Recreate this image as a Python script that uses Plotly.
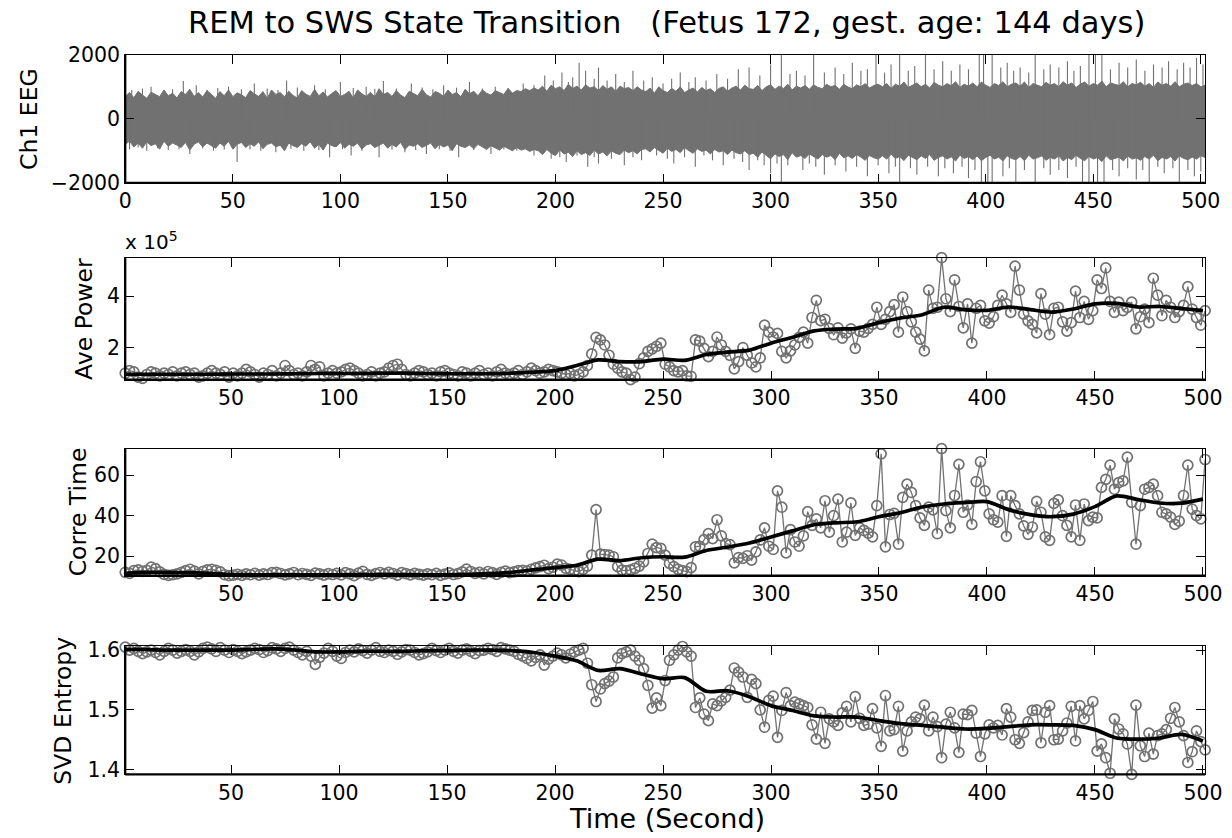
import plotly.graph_objects as go

# ---------------- data ----------------
T = list(range(1, 502, 2))  # window centres (s)

AP_X1E5 = [
    1.0, 1.1, 1.05, 0.85, 0.8, 0.95, 1.05, 1.0, 0.9, 1.0,
    0.95, 1.05, 0.9, 1.0, 1.05, 0.95, 1.0, 0.85, 0.9, 1.0,
    1.1, 1.0, 0.95, 1.05, 0.85, 1.0, 0.9, 1.0, 1.15, 1.05,
    0.95, 0.85, 1.0, 0.95, 1.1, 0.9, 1.0, 1.3, 1.1, 0.95,
    1.0, 0.9, 1.05, 1.3, 1.15, 1.25, 0.9, 1.0, 1.1, 1.0,
    1.05, 1.15, 1.2, 1.1, 1.0, 0.9, 0.95, 1.05, 0.9, 1.0,
    1.05, 1.2, 1.3, 1.35, 1.15, 0.95, 0.9, 1.0, 1.1, 1.05,
    0.95, 1.0, 0.9, 1.05, 1.1, 1.0, 0.95, 0.9, 1.05, 1.0,
    0.9, 1.0, 1.1, 0.95, 1.0, 0.9, 1.05, 1.15, 1.0, 0.95,
    1.0, 1.1, 0.95, 1.05, 1.2, 1.1, 1.0, 1.05, 1.15, 1.1,
    1.05, 1.0, 0.95, 1.0, 0.9, 0.95, 1.05, 1.3, 1.75, 2.4,
    2.3, 2.1, 1.7, 1.35, 1.2, 1.05, 1.0, 0.75, 0.85, 1.37,
    1.6, 1.85, 1.95, 2.05, 2.17, 1.35, 1.25, 1.1, 1.05, 1.1,
    0.9, 0.88, 2.3, 2.25, 1.97, 1.65, 1.85, 2.41, 2.1, 1.85,
    1.7, 1.17, 1.45, 2.0, 1.7, 1.4, 1.25, 1.6, 2.87, 2.6,
    2.41, 2.55, 1.85, 1.6, 1.87, 2.1, 2.4, 2.6, 2.17, 3.17,
    3.84, 3.05, 3.1, 2.75, 2.5, 2.77, 2.37, 2.57, 2.73, 1.97,
    2.64, 2.6, 2.75, 2.9, 3.57, 2.9, 3.1, 3.4, 3.67, 2.6,
    3.97, 3.4, 3.0, 2.6, 2.33, 1.87, 4.24, 3.53, 3.57, 5.5,
    3.9, 3.4, 4.64, 3.6, 2.77, 3.7, 2.17, 3.53, 3.64, 3.04,
    2.95, 3.2, 3.64, 4.04, 3.7, 3.37, 5.17, 4.24, 3.3, 3.04,
    2.9, 2.57, 4.1, 3.3, 2.5, 3.53, 3.57, 3.0, 2.64, 2.97,
    4.2, 3.17, 3.8, 3.1, 3.44, 4.64, 4.3, 5.1, 3.8, 3.37,
    3.77, 3.44, 3.57, 3.77, 2.73, 3.2, 3.5, 2.97, 4.7, 4.04,
    3.24, 3.84, 3.57, 3.17, 3.4, 3.64, 4.37, 3.5, 3.17, 2.87,
    3.44,
]

CT = [
    12.0, 11.5, 12.8, 13.2, 12.5, 13.0, 14.6, 13.8, 12.2, 11.0,
    10.5, 10.8, 11.2, 12.0, 12.8, 13.5, 12.6, 11.2, 12.5, 13.2,
    13.5, 13.0, 12.2, 10.8, 10.4, 10.6, 11.0, 10.5, 11.2, 10.8,
    11.5, 10.6, 11.2, 10.9, 11.8, 12.0, 11.4, 10.7, 11.2, 11.9,
    10.8, 11.4, 11.0, 10.5, 11.6, 11.2, 10.6, 11.3, 10.9, 11.5,
    10.7, 11.8, 11.2, 10.4, 11.6, 12.5, 11.0, 10.5, 11.3, 11.9,
    11.2, 12.0, 11.4, 10.6, 11.8, 11.3, 10.7, 11.5, 11.0, 10.6,
    11.2, 10.8, 11.5, 10.5, 11.1, 11.7, 10.9, 11.3, 12.2, 13.6,
    12.4, 11.5, 12.0, 11.2, 12.4, 11.8, 11.0, 12.0, 12.6, 11.8,
    12.2, 12.8, 13.0, 12.6, 13.5, 14.2, 14.8, 15.5, 13.8, 14.5,
    16.0, 15.6, 14.0, 13.5, 12.8, 12.3, 13.5, 15.1, 20.5, 43.0,
    21.0, 20.8, 20.5, 19.7, 14.8, 13.1, 12.7, 13.2, 14.0, 15.1,
    17.2, 21.3, 25.9, 24.2, 23.8, 20.5, 16.4, 14.8, 13.5, 12.8,
    12.3, 14.3, 24.6, 24.9, 28.2, 31.1, 28.7, 38.0, 30.0, 26.2,
    25.7, 16.7, 19.3, 18.9, 20.2, 18.0, 22.1, 28.0, 34.0, 24.9,
    23.3, 52.3, 44.2, 21.6, 33.1, 27.0, 24.9, 30.0, 42.0, 35.2,
    38.4, 34.0, 47.4, 31.9, 40.0, 48.2, 27.0, 31.9, 46.3, 30.3,
    34.0, 32.7, 31.4, 29.5, 45.0, 70.6, 24.6, 40.6, 41.2, 25.9,
    49.1, 55.6, 51.5, 45.0, 38.9, 35.2, 44.2, 42.9, 31.1, 73.2,
    42.5, 34.0, 50.0, 65.4, 41.7, 45.3, 35.7, 56.9, 66.7, 52.3,
    40.9, 38.0, 36.8, 49.9, 29.8, 49.9, 45.0, 40.9, 35.0, 30.8,
    34.4, 47.1, 41.7, 29.5, 27.8, 46.1, 47.8, 40.0, 35.2, 29.5,
    45.3, 27.8, 45.8, 37.6, 39.3, 38.9, 54.0, 58.0, 65.0, 53.1,
    56.4, 57.2, 69.0, 46.6, 25.9, 45.0, 53.1, 54.0, 55.6, 49.9,
    41.7, 40.9, 39.3, 35.7, 37.3, 50.0, 65.0, 43.3, 40.1, 38.4,
    67.8,
]

SE = [
    1.605, 1.600, 1.603, 1.598, 1.594, 1.597, 1.600, 1.596, 1.592, 1.598,
    1.603, 1.600, 1.595, 1.598, 1.601, 1.598, 1.592, 1.597, 1.603, 1.605,
    1.602, 1.598, 1.604, 1.600, 1.596, 1.601, 1.598, 1.594, 1.597, 1.600,
    1.603, 1.601, 1.596, 1.599, 1.604, 1.602, 1.598, 1.603, 1.605, 1.600,
    1.596, 1.592, 1.598, 1.590, 1.576, 1.588, 1.595, 1.603, 1.598, 1.590,
    1.586, 1.596, 1.600, 1.597, 1.602, 1.599, 1.595, 1.600, 1.604, 1.598,
    1.596, 1.600, 1.598, 1.593, 1.597, 1.601, 1.600, 1.596, 1.592, 1.594,
    1.597, 1.603, 1.599, 1.596, 1.600, 1.603, 1.598, 1.595, 1.600, 1.602,
    1.598, 1.594, 1.599, 1.600, 1.603, 1.601, 1.598, 1.604, 1.602, 1.600,
    1.598, 1.593, 1.590, 1.586, 1.582, 1.588, 1.592, 1.575, 1.585, 1.590,
    1.595, 1.592, 1.587, 1.593, 1.597, 1.600, 1.603, 1.578, 1.542, 1.514,
    1.535, 1.544, 1.548, 1.555, 1.587, 1.594, 1.597, 1.600, 1.590, 1.583,
    1.569, 1.541, 1.503, 1.520, 1.507, 1.549, 1.583, 1.592, 1.600, 1.606,
    1.597, 1.590, 1.504, 1.520, 1.493, 1.482, 1.510, 1.507, 1.515, 1.521,
    1.533, 1.570, 1.563, 1.555, 1.521, 1.551, 1.544, 1.500, 1.471, 1.516,
    1.523, 1.454, 1.499, 1.529, 1.507, 1.513, 1.510, 1.507, 1.504, 1.475,
    1.451, 1.496, 1.444, 1.485, 1.480, 1.474, 1.495, 1.506, 1.480, 1.522,
    1.486, 1.474, 1.476, 1.502, 1.470, 1.439, 1.524, 1.465, 1.467, 1.506,
    1.431, 1.465, 1.480, 1.488, 1.485, 1.508, 1.465, 1.488, 1.472, 1.420,
    1.476, 1.496, 1.470, 1.429, 1.493, 1.492, 1.499, 1.461, 1.422, 1.460,
    1.475, 1.470, 1.474, 1.458, 1.502, 1.488, 1.450, 1.444, 1.462, 1.480,
    1.499, 1.500, 1.445, 1.496, 1.507, 1.450, 1.451, 1.465, 1.478, 1.506,
    1.448, 1.507, 1.485, 1.499, 1.514, 1.431, 1.443, 1.420, 1.394, 1.485,
    1.468, 1.460, 1.443, 1.392, 1.508, 1.440, 1.422, 1.461, 1.426, 1.457,
    1.460, 1.467, 1.486, 1.504, 1.480, 1.457, 1.412, 1.430, 1.465, 1.447,
    1.433,
]

SM_T = [1] + list(range(10, 501, 10))
AP_SM = [0.96, 0.96, 0.96, 0.96, 0.96, 0.97, 0.97, 0.97, 0.98, 0.99,
         0.99, 0.99, 1.0, 1.0, 0.99, 0.98, 0.98, 0.98, 1.0, 1.04,
         1.1, 1.3, 1.52, 1.45, 1.45, 1.55, 1.5, 1.73, 1.82, 1.9,
         2.17, 2.4, 2.65, 2.72, 2.75, 2.97, 3.15, 3.28, 3.57, 3.47,
         3.45, 3.58, 3.48, 3.38, 3.5, 3.7, 3.72, 3.58, 3.6, 3.52, 3.44]
CT_SM = [11.5, 12.0, 12.0, 11.8, 11.5, 10.9, 10.8, 10.8, 10.8, 10.8,
         10.8, 10.9, 10.9, 10.9, 10.8, 10.8, 11.0, 11.3, 12.0, 13.2,
         14.3, 15.5, 18.5, 17.8, 19.2, 19.7, 19.5, 22.8, 24.5, 26.5,
         29.5, 32.5, 35.5, 36.5, 37.0, 39.5, 41.5, 44.3, 45.8, 46.5,
         47.0, 43.0, 40.5, 39.5, 40.8, 44.5, 49.8, 48.0, 46.3, 46.2, 48.2]
SE_SM = [1.601, 1.601, 1.600, 1.600, 1.600, 1.600, 1.601, 1.602, 1.600, 1.597,
         1.597, 1.598, 1.598, 1.598, 1.599, 1.599, 1.600, 1.600, 1.599, 1.596,
         1.590, 1.582, 1.566, 1.569, 1.560, 1.552, 1.554, 1.531, 1.532, 1.522,
         1.507, 1.499, 1.490, 1.488, 1.488, 1.482, 1.477, 1.474, 1.471, 1.468,
         1.469, 1.472, 1.475, 1.475, 1.474, 1.467, 1.453, 1.451, 1.453, 1.459, 1.448]

# EEG: solid-core envelope (every 2 s) plus individual spikes beyond it
EEG_T = list(range(0, 503, 2))
EEG_UP = [
    700, 820, 660, 860, 740, 640, 830, 760, 690, 900, 720, 800, 650, 850, 760, 920, 700, 820, 680, 880,
    760, 640, 850, 720, 900, 690, 810, 750, 660, 880, 780, 700, 850, 640, 900, 760, 820, 690, 860, 730,
    650, 880, 770, 700, 920, 720, 840, 680, 790, 880, 700, 760, 860, 650, 900, 780, 700, 830, 680, 940,
    760, 820, 700, 880, 740, 660, 860, 790, 720, 920, 750, 680, 850, 800, 700, 900, 760, 820, 690, 920,
    780, 860, 720, 900, 800, 740, 880, 820, 760, 950, 800, 880, 850, 940, 880, 960,
    900, 1020, 860, 1050, 940, 1000, 880, 1080, 950, 1020, 900, 1060, 960, 1000, 880, 1040, 920, 1000,
    860, 1020, 940, 980, 880, 1000, 900,
    850, 960, 800, 1000, 880, 820, 950, 860, 1000, 820, 900, 960, 840, 980, 880, 940, 820, 950, 1000,
    860, 960, 1020, 900, 1050, 940,
    920, 1040, 880, 1000, 1060, 920, 1020, 950, 1080, 900, 1020, 960, 1040, 920, 1060, 980, 940, 1080,
    1000, 1040, 920, 1080, 990, 940, 1060, 1000, 1100, 960, 1040, 1080,
    1000, 1100, 950, 1080, 1020, 1150, 980, 1050, 1120, 1000, 1080, 960, 1140, 1050, 1000, 1100, 1030,
    1160, 980, 1080, 1020, 1120, 1000, 1150, 1050, 980, 1100, 1040, 1160, 1000, 1080, 1120, 1020, 1150,
    980, 1100, 1060, 1000, 1140, 1050, 1100, 1000, 1160, 1050, 1120, 980, 1080, 1150, 1020, 1100, 1050,
    1180, 1000, 1120, 1080, 1040, 1160, 1000, 1100, 1060, 1140, 1020, 1100, 980, 1150, 1050, 1100, 1020,
    1160, 1000, 1080, 1120, 1040, 1100, 1000, 1050,
]
EEG_LO = [
    -800, -700, -880, -760, -920, -720, -840, -780, -950, -700, -860, -760, -820, -900, -740, -980, -800, -720, -880, -760,
    -840, -920, -760, -860, -700, -950, -800, -740, -900, -780, -860, -720, -940, -800, -760, -880, -820, -1000, -760, -840,
    -900, -780, -860, -720, -920, -800, -980, -760, -840, -880, -740, -920, -800, -860, -760, -950, -820, -780, -900, -840,
    -760, -920, -800, -880, -740, -960, -820, -860, -780, -900, -840, -760, -940, -800, -880, -820, -1000, -780, -860, -900,
    -820, -940, -800, -880, -960, -840, -900, -980, -860, -940, -1000, -900, -980, -940, -1020, -960,
    -1000, -1120, -960, -1080, -1150, -980, -1100, -1050, -1180, -1000, -1120, -1060, -1150, -980, -1100,
    -1040, -1160, -1000, -1080, -1120, -980, -1060, -1000, -1100, -960,
    -940, -1040, -900, -1000, -1080, -920, -1020, -960, -1060, -900, -1000, -1080, -940, -1020, -980,
    -1100, -960, -1040, -1000, -1120, -980, -1060, -1100, -1000, -1120,
    -1080, -1200, -1040, -1150, -1250, -1100, -1180, -1120, -1280, -1060, -1200, -1150, -1240, -1100, -1180,
    -1260, -1120, -1200, -1150, -1280, -1080, -1220, -1160, -1240, -1120, -1200, -1300, -1150, -1220, -1260,
    -1160, -1260, -1110, -1240, -1180, -1310, -1140, -1220, -1280, -1160, -1240, -1120, -1300, -1210, -1160,
    -1260, -1190, -1320, -1140, -1240, -1180, -1280, -1160, -1310, -1210, -1140, -1260, -1200, -1320, -1160,
    -1240, -1280, -1180, -1310, -1140, -1260, -1220, -1160, -1300, -1210, -1260, -1160, -1320, -1210, -1280,
    -1140, -1240, -1310, -1180, -1260, -1210, -1340, -1160, -1280, -1240, -1200, -1320, -1160, -1260, -1220,
    -1300, -1180, -1260, -1140, -1310, -1210, -1260, -1180, -1320, -1160, -1240, -1280, -1200, -1260, -1160, -1210,
]
SPK_UP_T = [3, 8, 12, 18, 22, 27, 33, 38, 43, 48, 54, 60, 66, 71, 75, 80, 88, 93, 100,
            106, 112, 116, 120, 126, 133, 138, 143, 148, 154, 160, 166, 172, 178, 185,
            190, 195, 199, 203, 206, 208, 211, 214, 218, 220, 224, 228, 232, 236, 241,
            245, 250, 254, 258, 262, 265, 270, 275, 280, 285, 290, 295, 300, 305, 309,
            312, 316, 320, 325, 330, 334, 338, 342, 345, 349, 353, 356, 360, 364, 367,
            372, 376, 380, 384, 388, 392, 397, 399, 403, 407, 410, 413, 416, 420, 423,
            427, 430, 434, 438, 441, 444, 448, 451, 454, 458, 462, 466, 470, 474, 478,
            482, 485, 489, 492, 495, 498, 501]
SPK_UP_V = [900, 950, 1000, 880, 920, 1180, 1050, 900, 960, 1000, 920, 1100, 950, 900, 1200,
            980, 1050, 920, 1150, 960, 1000, 940, 1180, 950, 1100, 980, 920, 1050, 970, 1150,
            950, 1000, 960, 1100, 1050, 1350, 1200, 1450, 1150, 1300, 1750, 1500, 1250, 1600,
            1200, 1400, 1150, 1500, 1200, 1300, 1100, 1250, 1450, 1150, 1300, 1200, 1400, 1250,
            1550, 1600, 1350, 1700, 2000, 1400, 1500, 1350, 2000, 1450, 1600, 1400, 1750, 1500,
            1550, 2000, 1450, 1700, 2000, 1500, 1650, 2000, 1550, 1800, 1500, 1700, 1550, 2000,
            2000, 2000, 1600, 1750, 1500, 1600, 1450, 2000, 1550, 1700, 1600, 1800, 1500, 1650,
            2000, 2000, 2000, 1550, 1750, 1600, 1850, 1500, 1700, 1600, 1800, 1550, 1750, 1600,
            1900, 1700]
SPK_LO_T = [2, 6, 10, 15, 20, 25, 30, 36, 41, 46, 52, 58, 63, 70, 77, 83, 90, 95, 101,
            105, 110, 118, 124, 130, 135, 140, 146, 151, 155, 162, 170, 176, 182, 190,
            194, 198, 202, 205, 210, 215, 218, 220, 226, 232, 236, 240, 247, 252, 255,
            260, 265, 269, 273, 278, 283, 287, 290, 294, 297, 300, 303, 305, 308, 315,
            318, 321, 325, 330, 335, 340, 345, 350, 355, 358, 360, 365, 368, 373, 378,
            381, 385, 389, 392, 395, 398, 401, 403, 408, 411, 414, 418, 423, 427, 430,
            434, 438, 442, 445, 448, 452, 455, 459, 462, 466, 470, 473, 476, 480, 483,
            487, 490, 494, 497, 500]
SPK_LO_V = [-950, -900, -1000, -920, -980, -950, -1100, -930, -1000, -960, -1350, -950,
            -1000, -1050, -940, -1000, -980, -1200, -950, -1150, -1000, -1200, -960, -1050,
            -980, -1100, -950, -1000, -1200, -980, -1100, -960, -1000, -1150, -1100, -1250,
            -1200, -1350, -1150, -1500, -1200, -1400, -1250, -1450, -1200, -1300, -1150,
            -1250, -1400, -1200, -1500, -1150, -1300, -1450, -1250, -1350, -1600, -1300,
            -1450, -1700, -1400, -2000, -1450, -1600, -1400, -1500, -1750, -1450, -1650,
            -1500, -1800, -1450, -1700, -1500, -2000, -1550, -1750, -1500, -1800, -1550,
            -1700, -1500, -1850, -1600, -2000, -2000, -2000, -1800, -1550, -2000, -1600,
            -2000, -1550, -1750, -1600, -1850, -1500, -2000, -2000, -2000, -2000, -1600,
            -1800, -1550, -1900, -1600, -2000, -1500, -1700, -1550, -2000, -1600, -1800,
            -1650]

# ---------------- styling ----------------
# Layout positions are given in target-picture pixels; the capture comes out
# slightly scaled and the page keeps an 8 px body margin, so convert.
S, OFF = 0.98, 8
W, H = 1249, 847
GRAY = "#717171"
FONT = "DejaVu Sans"
TICKF = dict(family=FONT, size=20.5, color="black")


def fx(px):
    px = px + 2.0
    return (px / S - OFF) / W


def fy(py):
    py = (py - 3.4) / 0.992
    return 1 - (py / S - OFF) / H


X0, X1 = fx(124), fx(1203)
ROWS = {  # (top px, bottom px) in target-picture coordinates
    1: (54, 182),
    2: (257, 379),
    3: (448, 575),
    4: (646, 774),
}

fig = go.Figure()

# Panel 1 EEG
fig.add_trace(go.Scatter(
    x=EEG_T + EEG_T[::-1], y=EEG_UP + EEG_LO[::-1], fill="toself",
    fillcolor=GRAY, line=dict(color=GRAY, width=1), mode="lines",
    xaxis="x", yaxis="y", hoverinfo="skip"))
sx, sy = [], []
for t, v in zip(SPK_UP_T + SPK_LO_T, SPK_UP_V + SPK_LO_V):
    sx += [t, t, None]
    sy += [0, v, None]
fig.add_trace(go.Scatter(x=sx, y=sy, mode="lines", line=dict(color=GRAY, width=1.1),
                         xaxis="x", yaxis="y", hoverinfo="skip"))

for i, (vals, sm) in enumerate([(AP_X1E5, AP_SM), (CT, CT_SM), (SE, SE_SM)], start=2):
    fig.add_trace(go.Scatter(
        x=T, y=vals, mode="lines+markers", cliponaxis=False,
        line=dict(color=GRAY, width=1.3),
        marker=dict(symbol="circle-open", size=10, color=GRAY, line=dict(width=1.7, color=GRAY)),
        xaxis=f"x{i}", yaxis=f"y{i}"))
    fig.add_trace(go.Scatter(
        x=SM_T, y=sm, mode="lines", cliponaxis=False,
        line=dict(color="black", width=3.7, shape="spline", smoothing=0.8),
        xaxis=f"x{i}", yaxis=f"y{i}"))

common_ax = dict(showline=True, linecolor="black", linewidth=1, mirror="ticks",
                 ticks="inside", ticklen=9, tickwidth=1, tickcolor="black",
                 showgrid=False, zeroline=False, tickfont=TICKF)

layout = dict(
    width=W, height=H, margin=dict(l=0, r=0, t=0, b=0),
    paper_bgcolor="white", plot_bgcolor="white", showlegend=False,
    font=dict(family=FONT, color="black"),
)
x_ticks_full = list(range(0, 501, 50))
x_ticks = list(range(50, 501, 50))
ytick_cfg = {
    1: dict(range=[-2000, 2000], tickvals=[-2000, 0, 2000], ticktext=["\u22122000", "0", "2000"]),
    2: dict(range=[min(AP_X1E5), max(AP_X1E5)], tickvals=[2, 4], ticktext=["2", "4"]),
    3: dict(range=[min(CT), max(CT)], tickvals=[20, 40, 60], ticktext=["20", "40", "60"]),
    4: dict(range=[min(SE), max(SE)], tickvals=[1.4, 1.5, 1.6], ticktext=["1.4", "1.5", "1.6"]),
}
for r in range(1, 5):
    xs = "" if r == 1 else str(r)
    if r == 1:
        xcfg = dict(range=[0, 502], tickvals=x_ticks_full, ticktext=[str(v) for v in x_ticks_full])
    else:
        xcfg = dict(range=[1, 501], tickvals=x_ticks, ticktext=[str(v) for v in x_ticks])
    top, bot = ROWS[r]
    layout[f"xaxis{xs}"] = dict(domain=[X0, X1], anchor=f"y{xs}", **xcfg, **common_ax)
    layout[f"yaxis{xs}"] = dict(domain=[fy(bot), fy(top)], anchor=f"x{xs}", **ytick_cfg[r], **common_ax)

fig.update_layout(**layout)

# thicker left / bottom axis lines (MATLAB look)
shapes = []
for r in range(1, 5):
    xs = "" if r == 1 else str(r)
    shapes.append(dict(type="line", xref=f"x{xs} domain", yref=f"y{xs} domain",
                       x0=0, x1=1, y0=0, y1=0, line=dict(color="black", width=2.2)))
    shapes.append(dict(type="line", xref=f"x{xs} domain", yref=f"y{xs} domain",
                       x0=0, x1=0, y0=0, y1=1, line=dict(color="black", width=2.2)))
fig.update_layout(shapes=shapes)

ann = []
ann.append(dict(text="REM to SWS State Transition\u00a0\u00a0\u00a0(Fetus 172, gest. age: 144 days)",
                x=fx(665), y=fy(22), xref="paper", yref="paper", showarrow=False,
                xanchor="center", yanchor="middle", font=dict(family=FONT, size=30.5, color="black")))
ytitles = [("Ch1 EEG", 28, 1), ("Ave Power", 82, 2), ("Corre Time", 77, 3), ("SVD Entropy", 62, 4)]
for txt, xp, r in ytitles:
    top, bot = ROWS[r]
    ann.append(dict(text=txt, x=fx(xp), y=fy((top + bot) / 2), xref="paper", yref="paper",
                    showarrow=False, textangle=-90, xanchor="center", yanchor="middle",
                    font=dict(family=FONT, size=23.5, color="black")))
ann.append(dict(text="x 10<sup>5</sup>", x=fx(122), y=fy(240), xref="paper", yref="paper",
                showarrow=False, xanchor="left", yanchor="middle",
                font=dict(family=FONT, size=20, color="black")))
ann.append(dict(text="Time (Second)", x=fx(665), y=fy(818), xref="paper", yref="paper",
                showarrow=False, xanchor="center", yanchor="middle",
                font=dict(family=FONT, size=27, color="black")))
fig.update_layout(annotations=ann)

fig.write_html("out.html")
